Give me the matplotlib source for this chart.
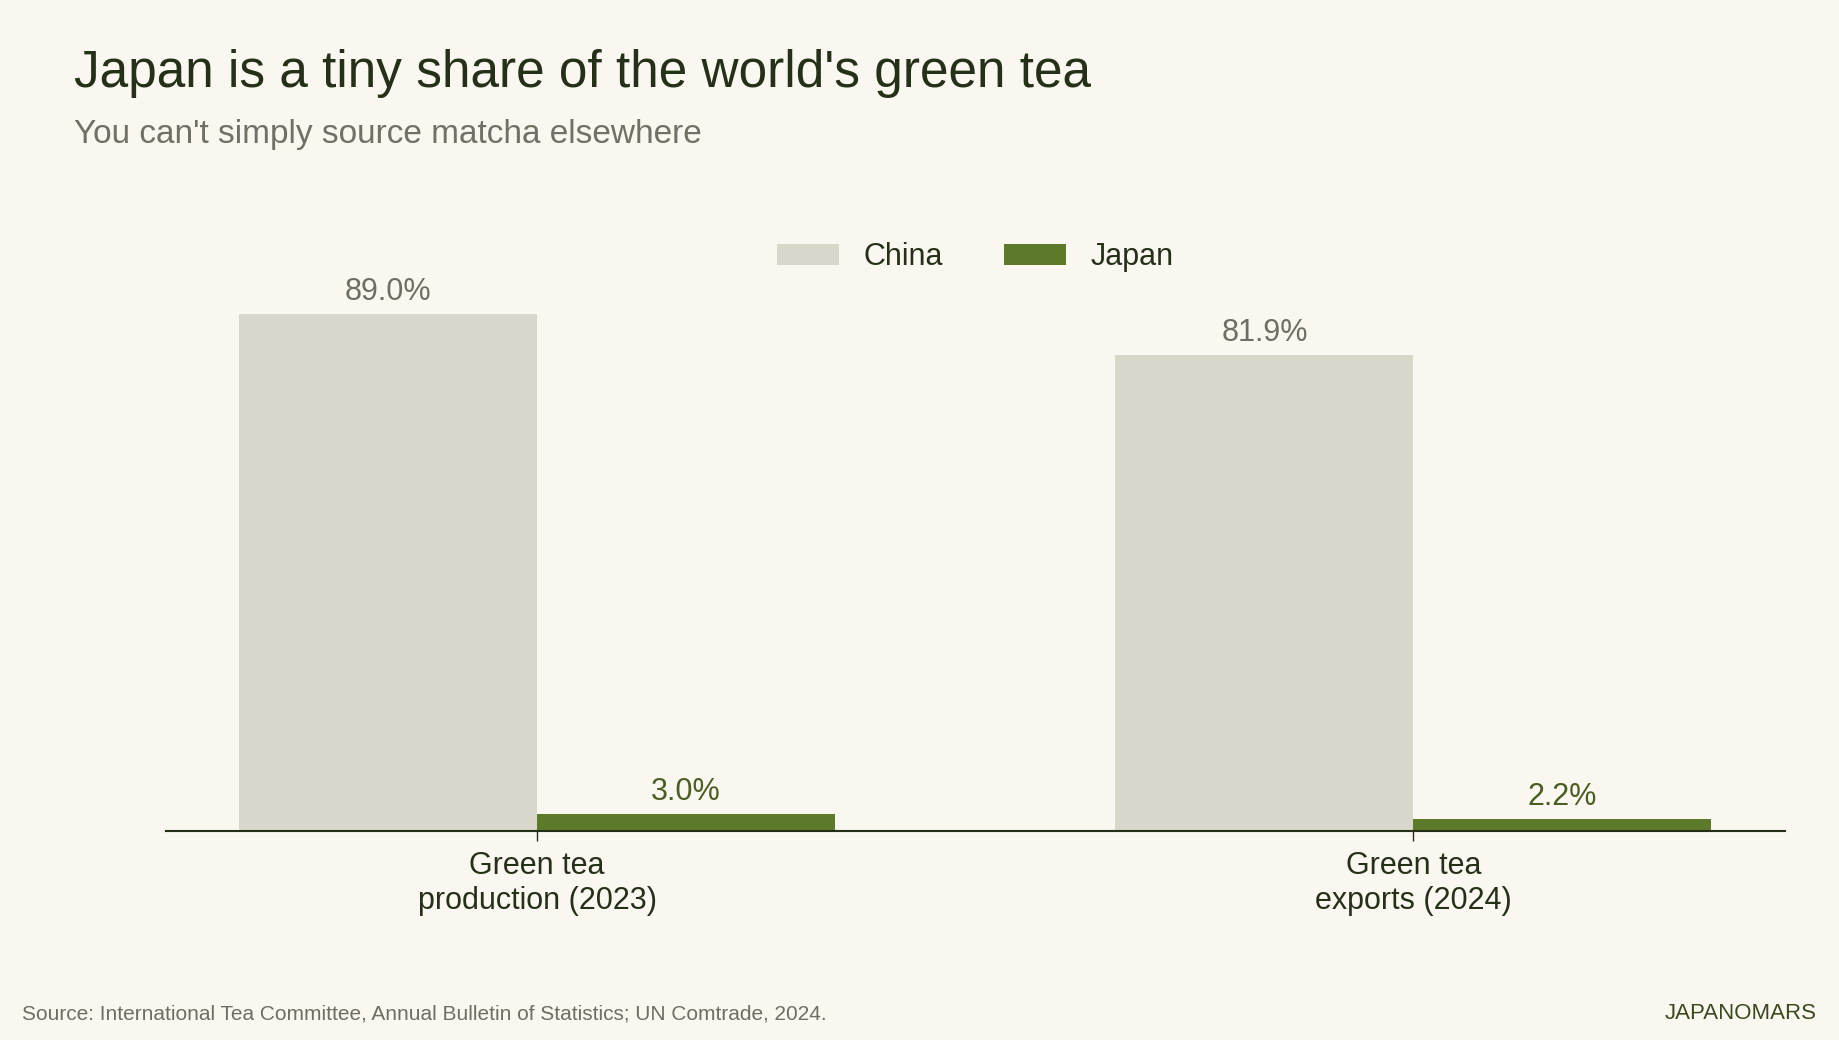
import matplotlib
matplotlib.use("Agg")
import numpy as np
import matplotlib.pyplot as plt

plt.rcParams['font.family'] = ['Liberation Sans', 'DejaVu Sans']

categories = ['Green tea\nproduction (2023)', 'Green tea\nexports (2024)']
china = [89.0, 81.9]
japan = [3.0, 2.2]

bg = '#f9f7ef'
c_china = '#d9d7cb'
c_japan = '#5c7a2a'
dark = '#253019'
grey = '#6e6e62'

fig = plt.figure(figsize=(18.39, 10.40), dpi=100, facecolor=bg)
ax = fig.add_axes([0.0905, 0.2005, 0.8801, 0.5591])
ax.set_facecolor(bg)

x = np.arange(len(categories))
w = 0.34
b1 = ax.bar(x - w / 2, china, w, color=c_china, label='China')
b2 = ax.bar(x + w / 2, japan, w, color=c_japan, label='Japan')

# value labels
for bars, vals, col in [(b1, china, grey), (b2, japan, '#4a5e22')]:
    for b, v in zip(bars, vals):
        ax.annotate(f'{v:.1f}%', (b.get_x() + b.get_width() / 2, v),
                    xytext=(0, 10), textcoords='offset points',
                    ha='center', va='baseline', fontsize=22, color=col)

ax.set_xlim(-0.423, 1.424)
ax.set_ylim(0, 100)
ax.set_xticks(x)
ax.set_xticklabels(categories, fontsize=22, color=dark, linespacing=1.22)
ax.tick_params(axis='x', length=7, width=1, color=dark, pad=7)
ax.set_yticks([])
for s in ['top', 'right', 'left']:
    ax.spines[s].set_visible(False)
ax.spines['bottom'].set_color(dark)
ax.spines['bottom'].set_linewidth(1.5)

ax.legend(loc='center', bbox_to_anchor=(0.5305, 0.753), bbox_transform=fig.transFigure,
          ncol=2, frameon=False, fontsize=22, labelcolor=dark,
          handlelength=2.03, handleheight=0.69, handletextpad=0.8,
          columnspacing=2.0, borderpad=0)

fig.text(0.0405, 0.9163, "Japan is a tiny share of the world's green tea",
         fontsize=37, color=dark, va='baseline', ha='left')
fig.text(0.0405, 0.8625, "You can't simply source matcha elsewhere",
         fontsize=24, color='#707064', va='baseline', ha='left')
fig.text(0.012, 0.020, 'Source: International Tea Committee, Annual Bulletin of Statistics; UN Comtrade, 2024.',
         fontsize=15, color=grey, va='baseline', ha='left')
fig.text(0.988, 0.020, 'JAPANOMARS', fontsize=16, color='#3a4a1e',
         va='baseline', ha='right')

fig.savefig('out.png', dpi=100, facecolor=bg)
